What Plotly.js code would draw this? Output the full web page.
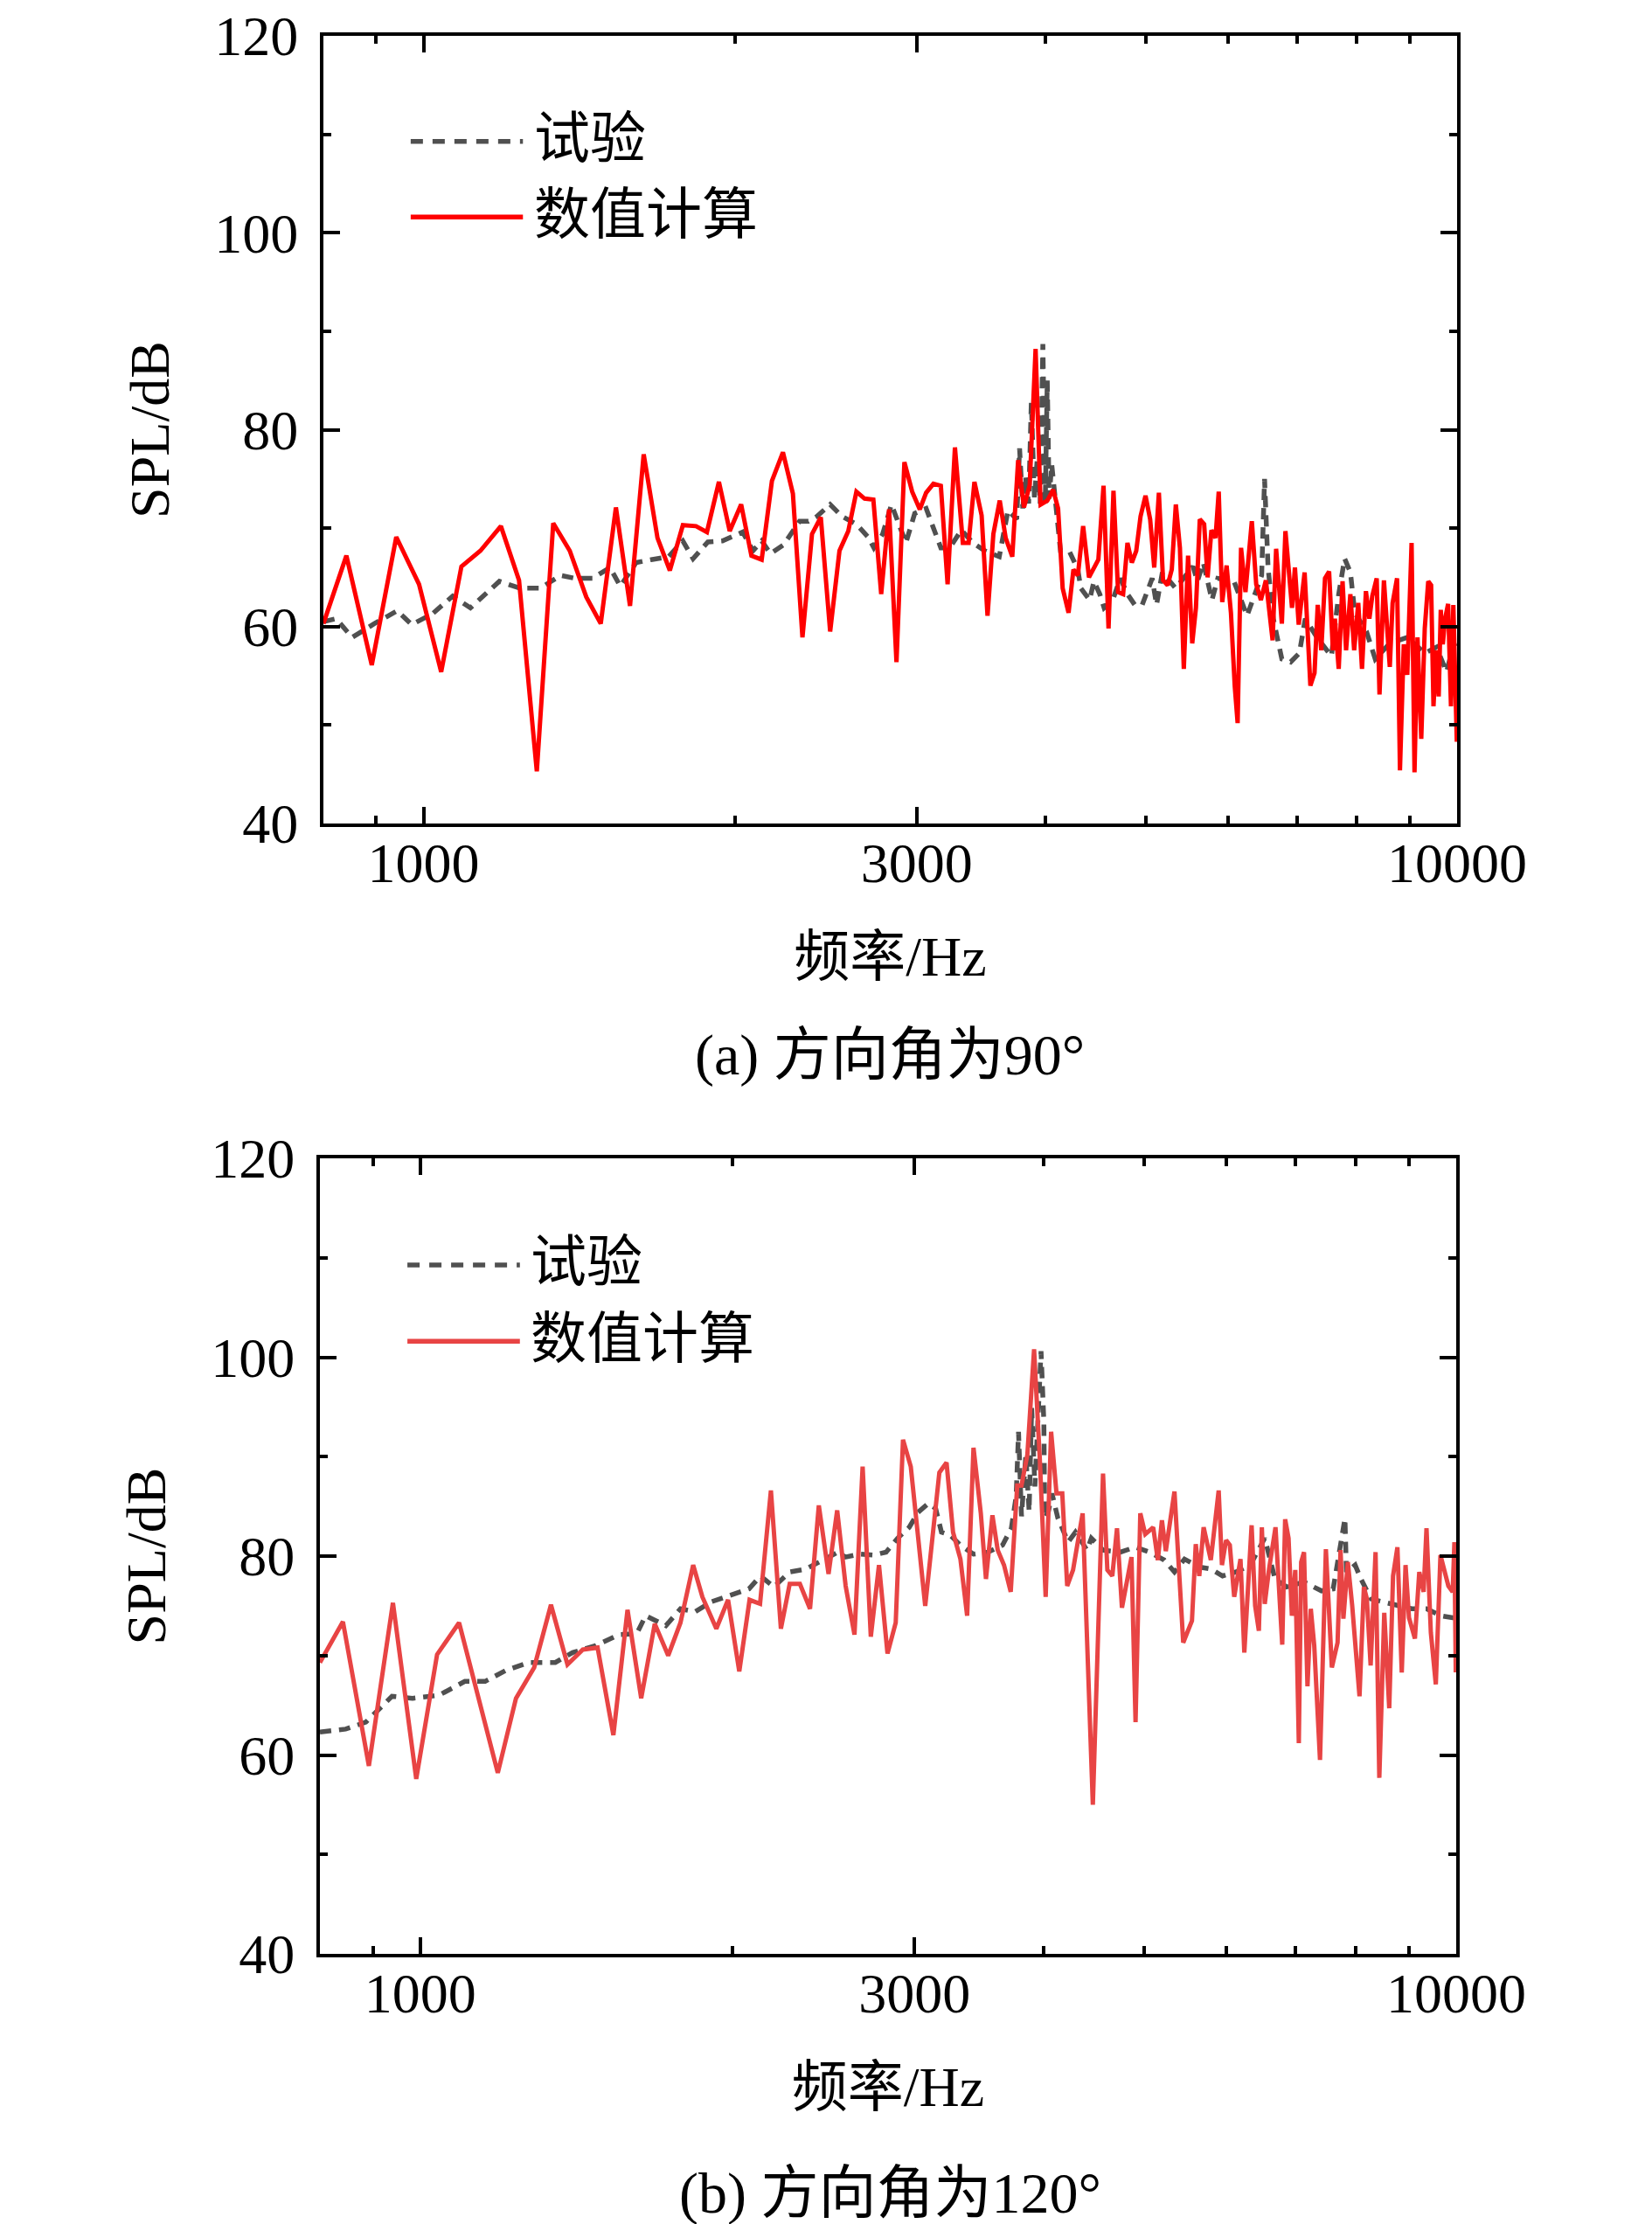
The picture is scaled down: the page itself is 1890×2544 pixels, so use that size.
<!DOCTYPE html>
<html>
<head>
<meta charset="utf-8">
<script src="https://cdn.plot.ly/plotly-3.0.1.min.js"></script>
<style>
    html, body { margin: 0; padding: 0; background: white; }
    #plot { width: 1890px; height: 2544px; }
</style>
</head>
<body>
<div id="plot"></div>
<script>
// (a) direction angle 90 deg
const exp_freq_a = [800, 823, 853, 896, 943, 974, 1020, 1067, 1110, 1184, 1239, 1297, 1357, 1402, 1457, 1515, 1550, 1606, 1660, 1726, 1782, 1823, 1884, 1946, 2036, 2083, 2124, 2166, 2230, 2311, 2357, 2403, 2474, 2540, 2623, 2692, 2727, 2781, 2836, 2891, 2929, 2987, 3064, 3166, 3229, 3314, 3401, 3491, 3606, 3677, 3749, 3773, 3800, 3822, 3850, 3873, 3900, 3924, 3950, 3974, 3995, 4013, 4030, 4053, 4092, 4133, 4213, 4296, 4324, 4410, 4453, 4511, 4555, 4644, 4721, 4798, 4877, 4958, 5070, 5119, 5186, 5341, 5553, 5607, 5681, 5792, 5868, 6083, 6263, 6345, 6470, 6512, 6563, 6640, 6768, 6902, 7037, 7130, 7318, 7558, 7682, 7784, 7885, 7962, 8172, 8333, 8608, 8950, 9305, 9549, 9768, 9929, 10000]
const exp_spl_a = [60.5, 60.8, 58.9, 60.3, 61.6, 60.2, 61.3, 63.1, 61.9, 64.6, 63.9, 63.9, 65.2, 64.9, 64.9, 66.0, 64.1, 66.5, 66.8, 67.1, 68.7, 66.9, 68.6, 68.7, 69.6, 67.7, 68.7, 67.4, 68.3, 70.7, 70.7, 71.2, 72.4, 71.2, 70.4, 69.1, 68.0, 69.4, 72.4, 70.2, 68.5, 71.5, 72.0, 68.0, 68.0, 69.8, 68.5, 67.7, 67.1, 71.8, 70.9, 78.1, 72.0, 75.3, 72.5, 82.8, 73.0, 77.0, 72.5, 88.7, 72.5, 85.0, 73.0, 76.5, 72.0, 67.7, 67.7, 65.8, 63.9, 62.7, 64.6, 63.3, 61.9, 62.7, 64.9, 63.3, 62.2, 62.2, 64.9, 62.2, 65.5, 63.9, 66.1, 64.6, 66.5, 62.7, 64.9, 64.6, 61.1, 62.7, 65.2, 75.0, 66.0, 60.8, 56.7, 56.4, 57.3, 60.8, 58.9, 57.0, 63.3, 66.9, 65.5, 61.4, 59.5, 56.7, 58.3, 58.9, 57.3, 57.9, 55.4, 58.3, 57.5]

const num_freq_a = [800, 842, 891, 941, 990, 1040, 1088, 1135, 1188, 1237, 1287, 1335, 1385, 1437, 1484, 1535, 1584, 1633, 1684, 1731, 1782, 1835, 1880, 1931, 1978, 2029, 2076, 2124, 2173, 2227, 2277, 2326, 2376, 2423, 2474, 2526, 2576, 2623, 2671, 2724, 2772, 2821, 2868, 2919, 2970, 3021, 3064, 3114, 3166, 3214, 3267, 3325, 3368, 3412, 3467, 3513, 3559, 3610, 3658, 3712, 3761, 3810, 3859, 3910, 3954, 4013, 4066, 4111, 4153, 4208, 4254, 4296, 4347, 4404, 4497, 4549, 4600, 4651, 4699, 4752, 4798, 4845, 4893, 4940, 4995, 5047, 5093, 5146, 5194, 5248, 5296, 5344, 5393, 5440, 5492, 5543, 5589, 5637, 5692, 5736, 5785, 5838, 5880, 5926, 5984, 6042, 6094, 6133, 6180, 6241, 6330, 6392, 6459, 6531, 6630, 6682, 6768, 6822, 6923, 6968, 7027, 7120, 7212, 7279, 7331, 7389, 7451, 7519, 7583, 7617, 7682, 7748, 7809, 7884, 7951, 8024, 8091, 8162, 8225, 8278, 8360, 8413, 8496, 8608, 8662, 8748, 8805, 8880, 8950, 9036, 9095, 9156, 9233, 9305, 9378, 9438, 9488, 9549, 9599, 9643, 9687, 9737, 9802, 9865, 9917, 9994]
const num_spl_a = [60.3, 67.2, 56.1, 69.1, 64.3, 55.4, 66.1, 67.7, 70.2, 64.7, 45.3, 70.5, 67.7, 63.0, 60.3, 72.1, 62.1, 77.5, 69.0, 65.7, 70.3, 70.2, 69.6, 74.7, 69.7, 72.4, 67.2, 66.8, 74.8, 77.7, 73.5, 58.9, 69.4, 71.1, 59.5, 67.7, 69.7, 73.7, 73.0, 72.9, 63.3, 71.9, 56.4, 76.7, 73.7, 71.9, 73.6, 74.5, 74.3, 64.3, 78.2, 68.5, 68.5, 74.7, 71.3, 61.1, 69.4, 72.8, 69.0, 67.1, 76.9, 72.1, 74.4, 88.2, 72.4, 72.8, 73.9, 72.0, 63.9, 61.4, 65.8, 65.2, 70.2, 65.0, 66.8, 74.3, 59.8, 73.8, 63.5, 63.3, 68.5, 66.5, 67.7, 71.2, 73.3, 70.9, 66.0, 73.6, 64.7, 64.2, 65.8, 72.4, 68.0, 55.7, 67.2, 58.3, 61.9, 70.9, 70.4, 65.0, 69.8, 69.0, 73.7, 62.5, 66.2, 61.4, 53.9, 50.2, 68.0, 63.5, 70.7, 64.3, 62.7, 64.7, 58.6, 67.9, 60.3, 69.7, 61.9, 66.0, 60.2, 65.5, 54.0, 55.3, 62.2, 57.6, 64.9, 65.6, 57.6, 60.8, 55.7, 64.6, 57.6, 63.3, 57.6, 62.4, 55.7, 63.6, 60.8, 63.1, 64.9, 53.1, 64.7, 55.9, 62.4, 64.9, 45.4, 58.2, 55.1, 68.5, 45.2, 58.9, 48.6, 59.8, 64.6, 64.2, 51.9, 57.6, 52.9, 61.7, 58.2, 60.8, 62.3, 51.9, 62.2, 48.3]

// (b) direction angle 120 deg
const exp_freq_b = [800, 847, 886, 939, 983, 1042, 1104, 1155, 1209, 1273, 1350, 1403, 1477, 1556, 1618, 1650, 1726, 1783, 1842, 1909, 1984, 2076, 2130, 2194, 2273, 2356, 2458, 2530, 2572, 2656, 2744, 2816, 2889, 2965, 3023, 3093, 3144, 3185, 3248, 3322, 3420, 3532, 3648, 3720, 3760, 3780, 3805, 3842, 3870, 3892, 3920, 3974, 3999, 4007, 4040, 4072, 4126, 4221, 4290, 4402, 4444, 4561, 4742, 4898, 5058, 5226, 5346, 5467, 5649, 5796, 5949, 6126, 6327, 6534, 6685, 6860, 7130, 7413, 7607, 7809, 7835, 7988, 8091, 8276, 8494, 8775, 9062, 9361, 9670, 9922, 10000]
const exp_spl_b = [62.3, 62.6, 63.3, 65.9, 65.7, 66.0, 67.4, 67.4, 68.5, 69.3, 69.3, 70.3, 71.0, 72.1, 72.2, 74.0, 73.0, 74.7, 74.4, 75.4, 76.0, 76.7, 78.0, 76.9, 78.4, 78.7, 79.7, 80.4, 79.9, 80.2, 80.1, 80.4, 81.8, 82.9, 84.4, 85.3, 84.8, 82.4, 82.1, 81.1, 80.2, 80.4, 81.1, 82.8, 86.0, 92.5, 84.0, 90.2, 84.5, 94.9, 87.0, 100.6, 93.5, 83.8, 84.5, 86.3, 83.8, 81.4, 82.4, 80.6, 81.8, 80.6, 80.4, 80.9, 80.4, 79.6, 78.4, 79.7, 78.9, 78.7, 78.0, 78.4, 79.1, 81.8, 77.7, 76.9, 77.4, 76.5, 76.7, 83.8, 78.4, 79.1, 77.7, 75.7, 75.4, 75.0, 74.7, 74.7, 74.0, 73.8, 73.8]

const num_freq_b = [800, 842, 892, 941, 991, 1038, 1090, 1188, 1237, 1288, 1337, 1387, 1435, 1483, 1536, 1585, 1634, 1684, 1735, 1783, 1834, 1872, 1931, 1982, 2032, 2079, 2128, 2180, 2229, 2273, 2325, 2378, 2425, 2478, 2526, 2574, 2625, 2673, 2722, 2772, 2825, 2877, 2924, 2975, 3072, 3170, 3221, 3268, 3322, 3372, 3420, 3476, 3516, 3567, 3609, 3660, 3715, 3769, 3805, 3855, 3913, 3963, 4015, 4064, 4113, 4166, 4212, 4267, 4359, 4459, 4561, 4605, 4656, 4705, 4757, 4859, 4903, 4955, 5010, 5099, 5152, 5199, 5244, 5346, 5451, 5558, 5605, 5649, 5704, 5796, 5898, 5941, 5996, 6046, 6105, 6191, 6244, 6346, 6396, 6449, 6492, 6534, 6597, 6692, 6793, 6837, 6889, 6940, 6993, 7048, 7085, 7130, 7185, 7238, 7294, 7388, 7485, 7585, 7682, 7733, 7782, 7859, 7936, 7988, 8066, 8145, 8199, 8268, 8359, 8429, 8522, 8617, 8690, 8775, 8860, 8935, 9004, 9123, 9212, 9301, 9361, 9452, 9557, 9656, 9745, 9827, 9922, 9960, 9990, 10000]
const num_spl_b = [69.3, 73.4, 58.9, 75.3, 57.6, 70.1, 73.3, 58.2, 65.7, 68.8, 75.1, 69.1, 70.6, 70.8, 62.0, 74.6, 65.7, 73.2, 70.0, 73.3, 79.1, 75.9, 72.7, 75.6, 68.4, 75.6, 75.2, 86.6, 72.7, 77.2, 77.2, 74.7, 85.1, 78.2, 84.6, 77.0, 72.1, 89.0, 71.9, 79.1, 70.2, 73.3, 91.7, 89.0, 75.0, 88.4, 89.4, 82.4, 79.7, 74.0, 90.9, 84.3, 77.7, 84.1, 80.6, 79.1, 76.4, 87.1, 87.1, 90.2, 100.8, 89.8, 75.9, 92.5, 86.3, 86.3, 77.0, 78.6, 84.3, 55.0, 88.3, 78.6, 78.0, 82.8, 74.8, 79.9, 63.3, 84.3, 82.2, 82.9, 79.6, 83.6, 80.5, 86.5, 71.3, 73.5, 81.2, 78.0, 82.9, 79.6, 86.6, 79.1, 81.6, 81.1, 75.9, 79.7, 70.3, 83.1, 75.0, 72.5, 82.9, 75.2, 78.7, 82.9, 71.1, 83.7, 81.8, 74.0, 78.6, 61.2, 79.4, 80.4, 66.9, 74.7, 71.0, 59.5, 80.7, 68.8, 71.3, 80.6, 73.7, 79.4, 75.0, 71.0, 65.9, 76.9, 75.7, 69.0, 80.4, 57.7, 74.3, 64.7, 78.0, 80.9, 68.3, 79.1, 73.8, 71.7, 78.4, 76.4, 82.8, 72.3, 67.1, 80.1, 78.4, 77.0, 76.4, 81.4, 68.3, 75.0]

// axes
const x_major_ticks = [1000, 3000, 10000]
const x_tick_labels = ["1000", "3000", "10000"]
const x_minor_ticks = [900, 2000, 4000, 5000, 6000, 7000, 8000, 9000]
const y_major_ticks = [40, 60, 80, 100, 120]
const y_minor_ticks = [50, 70, 90, 110]

const series_names = ["试验", "数值计算"]
const captions = ["(a) 方向角为90°", "(b) 方向角为120°"]

const FONT = "'Liberation Serif', 'Times New Roman', 'Noto Sans CJK SC', serif"
const GRAY = "#505050"
const RED_A = "#ff0000"
const RED_B = "#e84444"

function make_xaxis(domain, anchor) {
    return {
        type: "log",
        range: [Math.log10(800), 4],
        domain: domain,
        anchor: anchor,
        showline: true, linecolor: "black", linewidth: 4, mirror: "ticks",
        ticks: "inside", ticklen: 19, tickwidth: 4, tickcolor: "black",
        tickmode: "array", tickvals: x_major_ticks, ticktext: x_tick_labels,
        ticklabelstandoff: -14,
        ticklabeloverflow: "allow",
        tickfont: {family: FONT, size: 64, color: "black"},
        minor: {tickmode: "array", tickvals: x_minor_ticks, ticks: "inside", ticklen: 9, tickwidth: 4, tickcolor: "black", showgrid: false},
        showgrid: false, zeroline: false,
        title: {text: "频率/Hz", font: {family: FONT, size: 64, color: "black"}, standoff: 50},
    }
}

function make_yaxis(domain, anchor) {
    return {
        range: [40, 120],
        domain: domain,
        anchor: anchor,
        showline: true, linecolor: "black", linewidth: 4, mirror: "ticks",
        ticks: "inside", ticklen: 19, tickwidth: 4, tickcolor: "black",
        tickmode: "array", tickvals: y_major_ticks,
        ticklabelstandoff: 12,
        ticklabeloverflow: "allow",
        tickfont: {family: FONT, size: 64, color: "black"},
        minor: {tickmode: "array", tickvals: y_minor_ticks, ticks: "inside", ticklen: 9, tickwidth: 4, tickcolor: "black", showgrid: false},
        showgrid: false, zeroline: false,
        title: {text: "SPL/dB", font: {family: FONT, size: 64, color: "black"}, standoff: 32},
    }
}

// legend drawn by hand, the sample lines are much longer than plotly's own
function legend_items(xref, yref, red) {
    let shapes = [
        {type: "line", xref: xref, yref: yref, x0: 0.077, x1: 0.176, y0: 0.866, y1: 0.866,
         line: {color: GRAY, width: 5.5, dash: "14px,11px"}},
        {type: "line", xref: xref, yref: yref, x0: 0.077, x1: 0.176, y0: 0.770, y1: 0.770,
         line: {color: red, width: 5.5}},
    ]
    let notes = [
        {xref: xref, yref: yref, x: 0.184, y: 0.870, xanchor: "left", yanchor: "middle", showarrow: false,
         text: series_names[0], font: {family: FONT, size: 64, color: "black"}},
        {xref: xref, yref: yref, x: 0.184, y: 0.773, xanchor: "left", yanchor: "middle", showarrow: false,
         text: series_names[1], font: {family: FONT, size: 64, color: "black"}},
    ]
    return [shapes, notes]
}

let traces = [
    {x: exp_freq_a, y: exp_spl_a, name: series_names[0], xaxis: "x", yaxis: "y", mode: "lines",
     line: {color: GRAY, width: 5.5, dash: "13px,9px"}},
    {x: num_freq_a, y: num_spl_a, name: series_names[1], xaxis: "x", yaxis: "y", mode: "lines",
     line: {color: RED_A, width: 5}},
    {x: exp_freq_b, y: exp_spl_b, name: series_names[0], xaxis: "x2", yaxis: "y2", mode: "lines",
     line: {color: GRAY, width: 5.5, dash: "13px,9px"}},
    {x: num_freq_b, y: num_spl_b, name: series_names[1], xaxis: "x2", yaxis: "y2", mode: "lines",
     line: {color: RED_B, width: 5}},
]

let [shapes_a, notes_a] = legend_items("x domain", "y domain", RED_A)
let [shapes_b, notes_b] = legend_items("x2 domain", "y2 domain", RED_B)

let caption_notes = [
    {xref: "paper", yref: "paper", x: 1018 / 1890, y: 1 - 1207 / 2544, xanchor: "center", yanchor: "middle",
     showarrow: false, text: captions[0], font: {family: FONT, size: 66, color: "black"}},
    {xref: "paper", yref: "paper", x: 1018 / 1890, y: 1 - 2509 / 2544, xanchor: "center", yanchor: "middle",
     showarrow: false, text: captions[1], font: {family: FONT, size: 66, color: "black"}},
]

let layout = {
    width: 1890,
    height: 2544,
    margin: {l: 0, r: 0, t: 0, b: 0},
    paper_bgcolor: "white",
    plot_bgcolor: "white",
    showlegend: false,
    xaxis: make_xaxis([370 / 1890, 1667 / 1890], "y"),
    // top kept a few px below the page edge so the "120" label is not clipped
    yaxis: make_yaxis([1 - 942 / 2544, 1 - 41 / 2544], "x"),
    xaxis2: make_xaxis([366 / 1890, 1666 / 1890], "y2"),
    yaxis2: make_yaxis([1 - 2235 / 2544, 1 - 1325 / 2544], "x2"),
    shapes: shapes_a.concat(shapes_b),
    annotations: notes_a.concat(notes_b).concat(caption_notes),
}

Plotly.newPlot("plot", traces, layout, {staticPlot: true})
</script>
</body>
</html>
